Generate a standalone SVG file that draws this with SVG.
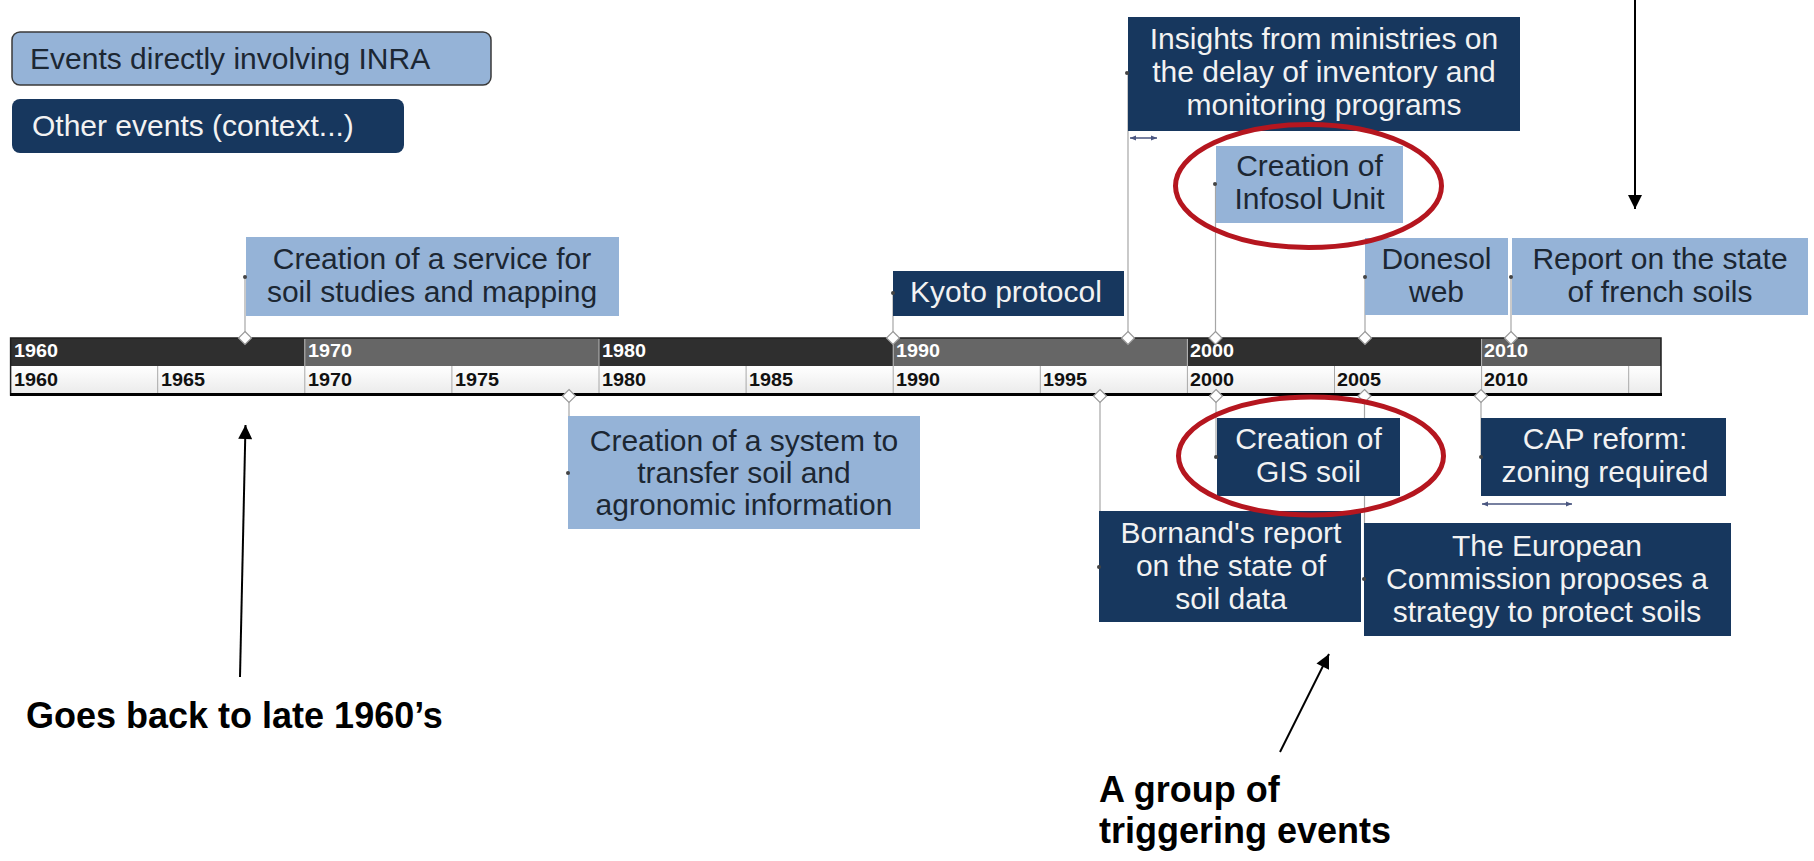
<svg xmlns="http://www.w3.org/2000/svg" width="1814" height="861" viewBox="0 0 1814 861">
<defs>
<style>
.lt{fill:#95B3D7}
.dk{fill:#17375E}
.tl{font-family:"Liberation Sans",Arial,sans-serif;font-size:30px;fill:#1C2733;text-anchor:middle}
.td{font-family:"Liberation Sans",Arial,sans-serif;font-size:30px;fill:#F2F2F2;text-anchor:middle}
.yr{font-family:"Liberation Sans",Arial,sans-serif;font-size:18px;font-weight:bold}
.yt{fill:#ffffff}
.yb{fill:#111111}
.cn{stroke:#A6A6A6;stroke-width:1.2;fill:none}
.dm{fill:#ffffff;stroke:#9A9A9A;stroke-width:1.2}
.dot{fill:#444444}
.ann{font-family:"Liberation Sans",Arial,sans-serif;font-size:36px;font-weight:bold;fill:#000000}
.red{fill:none;stroke:#B5161F;stroke-width:5}
.arr{stroke:#000000;stroke-width:2;fill:none}
.dbl{stroke:#4A5680;stroke-width:1.5;fill:none}
.div{stroke:#A8A8A8;stroke-width:1}
.tdiv{stroke:#B8B8B8;stroke-width:1}
</style>
<marker id="ah" viewBox="0 0 10 10" refX="10" refY="5" markerWidth="8" markerHeight="7" orient="auto" markerUnits="strokeWidth">
<path d="M0,0 L10,5 L0,10 Z" fill="#000000"/>
</marker>
<marker id="sa" viewBox="0 0 10 10" refX="10" refY="5" markerWidth="4" markerHeight="4" orient="auto-start-reverse" markerUnits="strokeWidth">
<path d="M0,1 L10,5 L0,9 Z" fill="#4A5680"/>
</marker>
<linearGradient id="lg" x1="0" y1="0" x2="0" y2="1">
<stop offset="0" stop-color="#FFFFFF"/>
<stop offset="1" stop-color="#EAEAEA"/>
</linearGradient>
<path id="dia" d="M0,-6.5 L6.5,0 L0,6.5 L-6.5,0 Z" class="dm"/>
</defs>

<rect x="0" y="0" width="1814" height="861" fill="#ffffff"/>

<!-- Legend -->
<g id="legend-inra">
<rect x="12" y="32" width="479" height="53" rx="8" class="lt" stroke="#3A3A3A" stroke-width="1.5"/>
<text x="30" y="69" class="tl" style="text-anchor:start">Events directly involving INRA</text>
</g>
<g id="legend-other">
<rect x="12" y="99" width="392" height="54" rx="8" class="dk"/>
<text x="32" y="136" class="td" style="text-anchor:start">Other events (context...)</text>
</g>

<!-- Connectors -->
<g id="connectors">
<line x1="245" y1="277" x2="245" y2="338" class="cn"/>
<line x1="893" y1="293" x2="893" y2="338" class="cn"/>
<line x1="1128" y1="73" x2="1128" y2="338" class="cn"/>
<line x1="1215.5" y1="184" x2="1215.5" y2="338" class="cn"/>
<line x1="1365" y1="277" x2="1365" y2="338" class="cn"/>
<line x1="1511" y1="277" x2="1511" y2="338" class="cn"/>
<line x1="569" y1="396" x2="569" y2="473" class="cn"/>
<line x1="1100" y1="396" x2="1100" y2="567" class="cn"/>
<line x1="1216" y1="396" x2="1216" y2="457" class="cn"/>
<line x1="1364.5" y1="396" x2="1364.5" y2="579" class="cn"/>
<line x1="1481" y1="396" x2="1481" y2="457" class="cn"/>
<line x1="1130" y1="138" x2="1157" y2="138" class="dbl" marker-start="url(#sa)" marker-end="url(#sa)"/>
<line x1="1482" y1="504" x2="1572" y2="504" class="dbl" marker-start="url(#sa)" marker-end="url(#sa)"/>
</g>

<!-- Timeline bar -->
<g id="timeline">
<rect x="10.6" y="338" width="294.2" height="28" fill="#2F2F2F"/>
<rect x="304.8" y="338" width="294.2" height="28" fill="#666666"/>
<rect x="599" y="338" width="294.2" height="28" fill="#2F2F2F"/>
<rect x="893.2" y="338" width="294.2" height="28" fill="#666666"/>
<rect x="1187.4" y="338" width="294.2" height="28" fill="#2F2F2F"/>
<rect x="1481.6" y="338" width="179.4" height="28" fill="#5E5E5E"/>
<rect x="10.6" y="366" width="1650.4" height="29" fill="url(#lg)"/>
<line x1="304.8" y1="339" x2="304.8" y2="366" class="tdiv"/>
<line x1="599" y1="339" x2="599" y2="366" class="tdiv"/>
<line x1="893.2" y1="339" x2="893.2" y2="366" class="tdiv"/>
<line x1="1187.4" y1="339" x2="1187.4" y2="366" class="tdiv"/>
<line x1="1481.6" y1="339" x2="1481.6" y2="366" class="tdiv"/>
<line x1="157.7" y1="366" x2="157.7" y2="394" class="div"/>
<line x1="304.8" y1="366" x2="304.8" y2="394" class="div"/>
<line x1="451.9" y1="366" x2="451.9" y2="394" class="div"/>
<line x1="599" y1="366" x2="599" y2="394" class="div"/>
<line x1="746.1" y1="366" x2="746.1" y2="394" class="div"/>
<line x1="893.2" y1="366" x2="893.2" y2="394" class="div"/>
<line x1="1040.3" y1="366" x2="1040.3" y2="394" class="div"/>
<line x1="1187.4" y1="366" x2="1187.4" y2="394" class="div"/>
<line x1="1334.5" y1="366" x2="1334.5" y2="394" class="div"/>
<line x1="1481.6" y1="366" x2="1481.6" y2="394" class="div"/>
<line x1="1628.7" y1="366" x2="1628.7" y2="394" class="div"/>
<rect x="10.6" y="338" width="1650.4" height="57" fill="none" stroke="#1E1E1E" stroke-width="1.5"/>
<line x1="10" y1="394.5" x2="1662" y2="394.5" stroke="#000000" stroke-width="3"/>
<text x="14" y="357" class="yr yt" textLength="44" lengthAdjust="spacingAndGlyphs">1960</text>
<text x="308" y="357" class="yr yt" textLength="44" lengthAdjust="spacingAndGlyphs">1970</text>
<text x="602" y="357" class="yr yt" textLength="44" lengthAdjust="spacingAndGlyphs">1980</text>
<text x="896" y="357" class="yr yt" textLength="44" lengthAdjust="spacingAndGlyphs">1990</text>
<text x="1190" y="357" class="yr yt" textLength="44" lengthAdjust="spacingAndGlyphs">2000</text>
<text x="1484" y="357" class="yr yt" textLength="44" lengthAdjust="spacingAndGlyphs">2010</text>
<text x="14" y="386" class="yr yb" textLength="44" lengthAdjust="spacingAndGlyphs">1960</text>
<text x="161" y="386" class="yr yb" textLength="44" lengthAdjust="spacingAndGlyphs">1965</text>
<text x="308" y="386" class="yr yb" textLength="44" lengthAdjust="spacingAndGlyphs">1970</text>
<text x="455" y="386" class="yr yb" textLength="44" lengthAdjust="spacingAndGlyphs">1975</text>
<text x="602" y="386" class="yr yb" textLength="44" lengthAdjust="spacingAndGlyphs">1980</text>
<text x="749" y="386" class="yr yb" textLength="44" lengthAdjust="spacingAndGlyphs">1985</text>
<text x="896" y="386" class="yr yb" textLength="44" lengthAdjust="spacingAndGlyphs">1990</text>
<text x="1043" y="386" class="yr yb" textLength="44" lengthAdjust="spacingAndGlyphs">1995</text>
<text x="1190" y="386" class="yr yb" textLength="44" lengthAdjust="spacingAndGlyphs">2000</text>
<text x="1337" y="386" class="yr yb" textLength="44" lengthAdjust="spacingAndGlyphs">2005</text>
<text x="1484" y="386" class="yr yb" textLength="44" lengthAdjust="spacingAndGlyphs">2010</text>
</g>

<!-- Diamond markers -->
<g id="markers">
<use href="#dia" x="245" y="338"/>
<use href="#dia" x="893" y="338"/>
<use href="#dia" x="1128" y="338"/>
<use href="#dia" x="1215.5" y="338"/>
<use href="#dia" x="1365" y="338"/>
<use href="#dia" x="1511" y="338"/>
<use href="#dia" x="569" y="396"/>
<use href="#dia" x="1100" y="396"/>
<use href="#dia" x="1216" y="396"/>
<use href="#dia" x="1364.5" y="396"/>
<use href="#dia" x="1481" y="396"/>
</g>

<!-- Event nodes -->
<g id="ev-service">
<rect x="246" y="237" width="373" height="79" class="lt"/>
<text x="432" y="269" class="tl">Creation of a service for</text>
<text x="432" y="302" class="tl">soil studies and mapping</text>
<circle cx="245" cy="277" r="2" class="dot"/>
</g>
<g id="ev-kyoto">
<rect x="893" y="271" width="231" height="45" class="dk"/>
<text x="1006" y="302" class="td">Kyoto protocol</text>
<circle cx="893" cy="293" r="2" class="dot"/>
</g>
<g id="ev-insights">
<rect x="1128" y="17" width="392" height="114" class="dk"/>
<text x="1324" y="49" class="td">Insights from ministries on</text>
<text x="1324" y="82" class="td">the delay of inventory and</text>
<text x="1324" y="115" class="td">monitoring programs</text>
<circle cx="1127" cy="73" r="2" class="dot"/>
</g>
<g id="ev-infosol">
<rect x="1216" y="146" width="187" height="77" class="lt"/>
<text x="1309.5" y="176" class="tl">Creation of</text>
<text x="1309.5" y="209" class="tl">Infosol Unit</text>
<circle cx="1215" cy="184" r="2" class="dot"/>
</g>
<g id="ev-donesol">
<rect x="1365" y="238" width="143" height="77" class="lt"/>
<text x="1436.5" y="269" class="tl">Donesol</text>
<text x="1436.5" y="302" class="tl">web</text>
<circle cx="1365" cy="277" r="2" class="dot"/>
</g>
<g id="ev-report">
<rect x="1512" y="238" width="296" height="77" class="lt"/>
<text x="1660" y="269" class="tl">Report on the state</text>
<text x="1660" y="302" class="tl">of french soils</text>
<circle cx="1511" cy="277" r="2" class="dot"/>
</g>
<g id="ev-transfer">
<rect x="568" y="416" width="352" height="113" class="lt"/>
<text x="744" y="451" class="tl">Creation of a system to</text>
<text x="744" y="483" class="tl">transfer soil and</text>
<text x="744" y="515" class="tl">agronomic information</text>
<circle cx="568" cy="473" r="2" class="dot"/>
</g>
<g id="ev-gis">
<rect x="1217" y="418" width="183" height="78" class="dk"/>
<text x="1308.5" y="449" class="td">Creation of</text>
<text x="1308.5" y="482" class="td">GIS soil</text>
<circle cx="1216" cy="457" r="2" class="dot"/>
</g>
<g id="ev-cap">
<rect x="1481" y="418" width="245" height="78" class="dk"/>
<text x="1605" y="449" class="td">CAP reform:</text>
<text x="1605" y="482" class="td">zoning required</text>
<circle cx="1481" cy="457" r="2" class="dot"/>
</g>
<g id="ev-bornand">
<rect x="1099" y="511" width="262" height="111" class="dk"/>
<text x="1231" y="543" class="td">Bornand's report</text>
<text x="1231" y="576" class="td">on the state of</text>
<text x="1231" y="609" class="td">soil data</text>
<circle cx="1099" cy="567" r="2" class="dot"/>
</g>
<g id="ev-european">
<rect x="1364" y="523" width="367" height="113" class="dk"/>
<text x="1547" y="556" class="td">The European</text>
<text x="1547" y="589" class="td">Commission proposes a</text>
<text x="1547" y="622" class="td">strategy to protect soils</text>
<circle cx="1364" cy="579" r="2" class="dot"/>
</g>

<!-- Highlights -->
<g id="highlight-infosol">
<ellipse cx="1308.5" cy="186" rx="133" ry="61.5" class="red"/>
</g>
<g id="highlight-gis">
<ellipse cx="1311" cy="456" rx="132.5" ry="59" class="red"/>
</g>

<!-- Annotations -->
<g id="annotation-arrows">
<line x1="1635" y1="0" x2="1635" y2="209" class="arr" marker-end="url(#ah)"/>
<line x1="240" y1="677" x2="245.5" y2="425" class="arr" marker-end="url(#ah)"/>
<line x1="1280" y1="752" x2="1329" y2="654" class="arr" marker-end="url(#ah)"/>
</g>
<g id="note-1960s">
<text x="26" y="728" class="ann">Goes back to late 1960’s</text>
</g>
<g id="note-trigger">
<text x="1099" y="802" class="ann">A group of</text>
<text x="1099" y="843" class="ann">triggering events</text>
</g>
</svg>
